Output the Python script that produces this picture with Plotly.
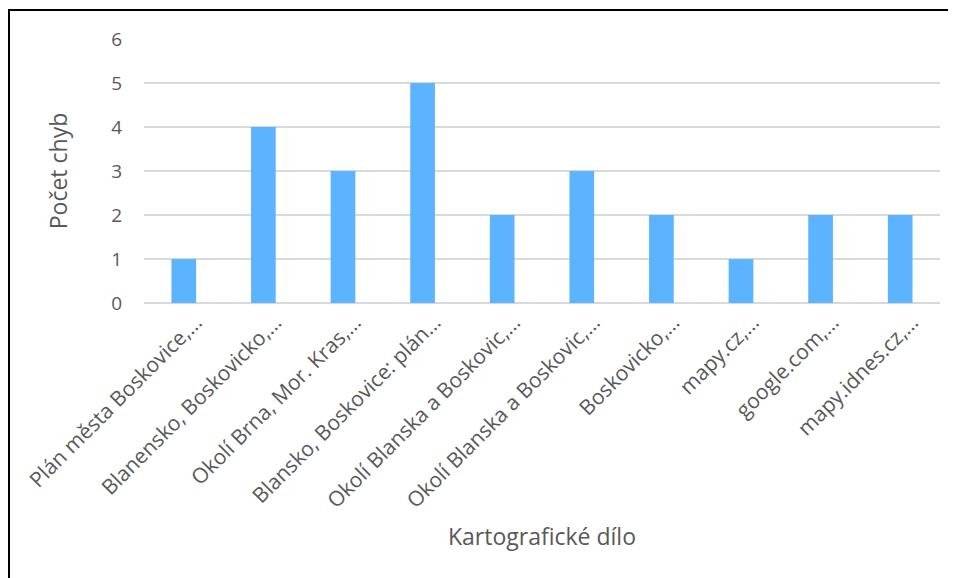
import plotly.graph_objects as go

categories = [
    "Plán města Boskovice,…",
    "Blanensko, Boskovicko,…",
    "Okolí Brna, Mor. Kras,…",
    "Blansko, Boskovice: plán…",
    "Okolí Blanska a Boskovic,…",
    "Okolí Blanska a Boskovic,…​",
    "Boskovicko,…",
    "mapy.cz,…",
    "google.com,…",
    "mapy.idnes.cz,…",
]
values = [1, 4, 3, 5, 2, 3, 2, 1, 2, 2]
y_ticks = [0, 1, 2, 3, 4, 5, 6]

FONT = "Open Sans"
GRAY = "#595959"

fig = go.Figure(go.Bar(x=list(range(len(categories))), y=values, marker_color="#5cb3ff",
                       marker_line_width=0))

# page body has an 8px margin; figure coordinates are offset accordingly
W, H = 948, 570
ml, mr, mt, mb = 136, 16, 31, 275
pw, ph = W - ml - mr, H - mt - mb

def px_x(x):
    return (x - 8 - ml) / pw

def px_y(y):
    return 1 - (y - 8 - mt) / ph

fig.update_layout(
    width=W, height=H,
    margin=dict(l=ml, r=mr, t=mt, b=mb),
    paper_bgcolor="white", plot_bgcolor="white",
    bargap=0.69,
    showlegend=False,
    font=dict(family=FONT, color=GRAY),
    xaxis=dict(
        tickmode="array", tickvals=list(range(len(categories))), ticktext=categories,
        tickangle=-45, tickfont=dict(size=21, color=GRAY, family=FONT),
        showgrid=False, zeroline=False, showline=False,
        ticklabelshift=12, ticklabelstandoff=2,
        range=[-0.5, len(categories) - 0.5],
        title=dict(text="Kartografické dílo", font=dict(size=23, color=GRAY, family=FONT), standoff=16),
        automargin=False,
    ),
    yaxis=dict(
        range=[0, 6], tickvals=y_ticks, tickfont=dict(size=19, color=GRAY, family=FONT),
        showgrid=True, gridcolor="#d9d9d9", gridwidth=1.5,
        zeroline=True, zerolinecolor="#d9d9d9", zerolinewidth=1.5,
        showline=False, ticklabelstandoff=21,
        title=dict(text="Počet chyb", font=dict(size=23, color=GRAY, family=FONT), standoff=37),
        automargin=False,
    ),
    shapes=[dict(type="rect", xref="paper", yref="paper",
                 x0=px_x(9), x1=px_x(1000), y0=px_y(700), y1=px_y(10),
                 line=dict(color="black", width=2), fillcolor="rgba(0,0,0,0)", layer="above")],
)

fig.write_html("out.html")
